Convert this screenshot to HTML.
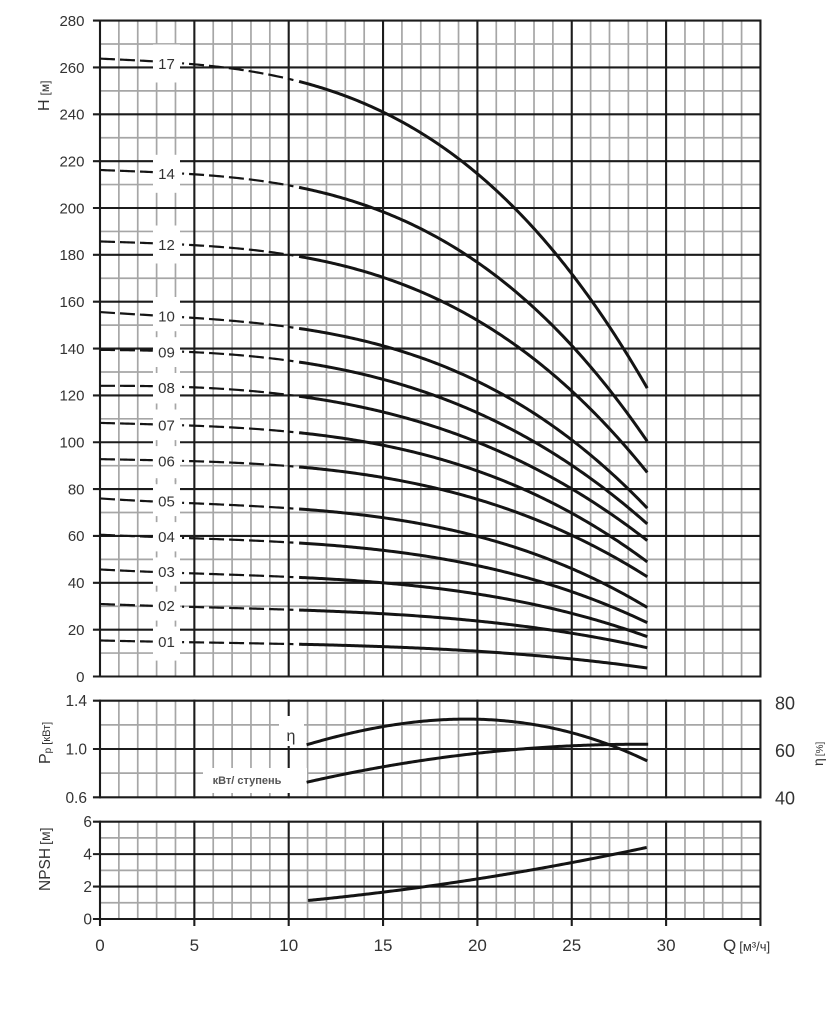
<!DOCTYPE html>
<html><head><meta charset="utf-8"><title>chart</title>
<style>
html,body{margin:0;padding:0;background:#fff;width:837px;height:1024px;overflow:hidden}
svg{display:block}
text{font-family:"Liberation Sans",Arial,sans-serif;fill:#333}
</style></head><body>
<svg id="s" width="837" height="1024" viewBox="0 0 837 1024" xmlns="http://www.w3.org/2000/svg">
<rect width="837" height="1024" fill="#fff"/>
<g id="grid"></g>
<g id="boxes" fill="#fff">
<rect x="153" y="44.5" width="27" height="38"/>
<rect x="153" y="154.8" width="27" height="38"/>
<rect x="153" y="225.5" width="27" height="38"/>
<rect x="153" y="297" width="27" height="38"/>
<rect x="153" y="333.3" width="27" height="38"/>
<rect x="153" y="368.8" width="27" height="38"/>
<rect x="153" y="406.2" width="27" height="38"/>
<rect x="153" y="442" width="27" height="38"/>
<rect x="153" y="482.3" width="27" height="38"/>
<rect x="153" y="517.9" width="27" height="38"/>
<rect x="153" y="552.8" width="27" height="38"/>
<rect x="153" y="586.6" width="27" height="38"/>
<rect x="153" y="622.6" width="27" height="38"/>
<rect x="279" y="716" width="25" height="30"/>
<rect x="203" y="768" width="104" height="25"/>
</g>
<g id="gdash"></g>
<g id="curves" fill="none" stroke="#141414"></g>
<g id="txt">
  <g font-size="15" text-anchor="middle" style="fill:#444">
    <text x="166.5" y="68.8">17</text>
    <text x="166.5" y="179.1">14</text>
    <text x="166.5" y="249.8">12</text>
    <text x="166.5" y="321.3">10</text>
    <text x="166.5" y="357.6">09</text>
    <text x="166.5" y="393.1">08</text>
    <text x="166.5" y="430.5">07</text>
    <text x="166.5" y="466.3">06</text>
    <text x="166.5" y="506.6">05</text>
    <text x="166.5" y="542.2">04</text>
    <text x="166.5" y="577.1">03</text>
    <text x="166.5" y="610.9">02</text>
    <text x="166.5" y="646.9">01</text>
  </g>
  <g font-size="15" text-anchor="end">
    <text x="84.5" y="25.9">280</text>
    <text x="84.5" y="72.8">260</text>
    <text x="84.5" y="119.6">240</text>
    <text x="84.5" y="166.4">220</text>
    <text x="84.5" y="213.3">200</text>
    <text x="84.5" y="260.2">180</text>
    <text x="84.5" y="307">160</text>
    <text x="84.5" y="353.8">140</text>
    <text x="84.5" y="400.7">120</text>
    <text x="84.5" y="447.5">100</text>
    <text x="84.5" y="494.4">80</text>
    <text x="84.5" y="541.2">60</text>
    <text x="84.5" y="588.1">40</text>
    <text x="84.5" y="634.9">20</text>
    <text x="84.5" y="681.8">0</text>
  </g>
  <g font-size="15.5" text-anchor="end">
    <text x="87" y="706.2">1.4</text>
    <text x="87" y="754.5">1.0</text>
    <text x="87" y="802.8">0.6</text>
    <text x="92" y="827.2">6</text>
    <text x="92" y="859.6">4</text>
    <text x="92" y="892.1">2</text>
    <text x="92" y="924.5">0</text>
  </g>
  <g font-size="18" text-anchor="middle">
    <text x="785" y="709.5">80</text>
    <text x="785" y="757">60</text>
    <text x="785" y="804.4">40</text>
  </g>
  <g font-size="17" text-anchor="middle">
    <text x="100" y="951">0</text>
    <text x="194.35" y="951">5</text>
    <text x="288.7" y="951">10</text>
    <text x="383.05" y="951">15</text>
    <text x="477.4" y="951">20</text>
    <text x="571.75" y="951">25</text>
    <text x="666.1" y="951">30</text>
  </g>
  <text x="723" y="951" font-size="17">Q<tspan font-size="13" dx="3">[м³/ч]</tspan></text>
  <text transform="translate(49,111) rotate(-90)" font-size="16">H<tspan font-size="12" dx="4">[м]</tspan></text>
  <text transform="translate(50,764) rotate(-90)" font-size="16">P<tspan font-size="10" dy="1">p</tspan><tspan font-size="11" dx="3" dy="-1">[кВт]</tspan></text>
  <text transform="translate(50,891) rotate(-90)" font-size="15.5">NPSH<tspan font-size="14" dx="3">[м]</tspan></text>
  <text transform="translate(823,766) rotate(-90)" font-size="14">η<tspan font-size="10" dx="2">[%]</tspan></text>
  <text x="291" y="741" font-size="16" text-anchor="middle">η</text>
  <text x="247" y="784" font-size="11" font-weight="bold" text-anchor="middle" style="fill:#555">кВт/ ступень</text>
</g>
</svg>
<script>
(function(){
const NS='http://www.w3.org/2000/svg';
function el(p,t,a){const e=document.createElementNS(NS,t);for(const k in a)e.setAttribute(k,a[k]);p.appendChild(e);return e;}
const X0=100,XS=18.87,X1=X0+35*XS;
const xq=q=>X0+q*XS;
const yH=h=>676.5-h*2.3425;
const yP=p=>700.7+(1.4-p)*120.75;
const yN=n=>919-n*16.217;
const G=document.getElementById('grid');
const MINC='#a6a6a6',MAJC='#1c1c1c',MINW=1.7,MAJW=2.1;
function ln(p,x1,y1,x2,y2,c,w,cap){const a={x1:x1.toFixed(2),y1:y1.toFixed(2),x2:x2.toFixed(2),y2:y2.toFixed(2),stroke:c,'stroke-width':w};if(cap)a['stroke-linecap']=cap;el(p,'line',a);}
function panel(top,bot,hl){
  for(let q=0;q<=35;q++) if(q%5) ln(G,xq(q),top,xq(q),bot,MINC,MINW);
  hl.forEach(h=>{if(!h[1]) ln(G,X0,h[0],X1,h[0],MINC,MINW);});
  hl.forEach(h=>{if(h[1]) ln(G,X0-6,h[0],X1,h[0],MAJC,MAJW,'square');});
  for(let q=0;q<=35;q+=5) ln(G,xq(q),top,xq(q),bot,MAJC,MAJW,'square');
}
let hl=[];for(let h=0;h<=280;h+=10)hl.push([yH(h),h%20===0]);
panel(yH(280),yH(0),hl);
hl=[];for(let i=0;i<=4;i++)hl.push([yP(0.6+i*0.2),i%2===0]);
panel(yP(1.4),yP(0.6),hl);
hl=[];for(let n=0;n<=6;n++)hl.push([yN(n),n%2===0]);
panel(yN(6),yN(0),hl);
for(let q=0;q<=35;q+=5) ln(G,xq(q),yN(0),xq(q),yN(0)+7,MAJC,MAJW);

const D=document.getElementById('gdash');
[334.2,370,406.5,443.1,481.2,519.1,554.4,588.7,623.6].forEach(y=>{[3,4].forEach(q=>ln(D,xq(q),y-3,xq(q),y+3,MINC,MINW));});

function fit(pts,deg){
  const n=deg+1;const A=[];for(let i=0;i<n;i++){A.push(new Array(n+1).fill(0));}
  const s=x=>(x-15)/15;
  pts.forEach(([x0,y])=>{const x=s(x0);for(let i=0;i<n;i++){for(let j=0;j<n;j++)A[i][j]+=Math.pow(x,i+j);A[i][n]+=y*Math.pow(x,i);}});
  for(let i=0;i<n;i++){let p=i;for(let r=i+1;r<n;r++)if(Math.abs(A[r][i])>Math.abs(A[p][i]))p=r;const t=A[i];A[i]=A[p];A[p]=t;
    for(let r=0;r<n;r++){if(r===i)continue;const f=A[r][i]/A[i][i];for(let c=i;c<=n;c++)A[r][c]-=f*A[i][c];}}
  const c=A.map((row,i)=>row[n]/row[i]);
  return x0=>{const x=s(x0);let v=0;for(let i=0;i<n;i++)v+=c[i]*Math.pow(x,i);return v;};
}
function pathStr(f,a,b,tx,ty){let s='';const n=Math.max(2,Math.ceil((b-a)/0.1));for(let i=0;i<=n;i++){const q=a+(b-a)*i/n;s+=(i?'L':'M')+tx(q).toFixed(2)+' '+ty(f(q)).toFixed(2);}return s;}
const C=document.getElementById('curves');
const data={
 '17':[[0,264],[10,255.4],[11,253.9],[15,240],[20,214.5],[22,199.9],[25,172.1],[29,123]],
 '14':[[0,216.5],[11,208.1],[15,198.9],[20,176.4],[23.67,152.2],[29,100.5]],
 '12':[[0,185.9],[10,180.2],[11,179.2],[15,169.3],[20,153.2],[25,121],[29,87.4]],
 '10':[[0,155.5],[11,148.6],[15,140.1],[20,126.6],[25,101],[29,71.8]],
 '09':[[0,139.7],[11,134.1],[15,126.6],[20,113],[25,89.6],[29,65.4]],
 '08':[[0,124.4],[11,119.4],[15,113],[20,100.2],[25,79.6],[29,58.3]],
 '07':[[0,108.4],[11,103.5],[15,99.3],[20,87.4],[25,69.7],[29,49]],
 '06':[[0,92.9],[11,89.1],[15,85.3],[20,75.3],[25,60.4],[29,42.6]],
 '05':[[0,75.8],[11,71.4],[15,67.5],[20,59.4],[25,46.9],[29,29.1]],
 '04':[[0,60.4],[11,56.9],[15,53.7],[20,46.9],[25,36.9],[29,22.7]],
 '03':[[0,45.5],[11,42.2],[15,39.8],[20,34.8],[25,27.7],[29,16.7]],
 '02':[[0,30.8],[11,28.4],[15,26.5],[20,23.4],[25,19.1],[29,12]],
 '01':[[0,15.3],[11,13.7],[15,12.7],[20,10.6],[25,7.8],[29,3.5]]
};
for(const k in data){
  const pts=data[k].slice();const H0=pts[0][1];const H11=pts.find(p=>p[0]===11)[1];
  pts.push([3.5,H0-0.23*(H0-H11)]);
  const f=fit(pts,3);
  el(C,'path',{d:pathStr(f,0,2.8,xq,yH),'stroke-width':2.2,'stroke-dasharray':'15 5'});
  el(C,'path',{d:pathStr(f,4.35,10.25,xq,yH),'stroke-width':2.2,'stroke-dasharray':'15 5','stroke-dashoffset':13});
  el(C,'path',{d:pathStr(f,10.55,29,xq,yH),'stroke-width':3});
}
const id=v=>v;
const eta=fit([[10.95,745],[13.07,733.3],[15.01,727.3],[16.96,721.7],[18.9,719],[20.02,719],[21.2,720],[22.96,725],[25.03,733],[27.2,746],[28.97,760.7]],4);
el(C,'path',{d:pathStr(eta,10.95,29,xq,id),'stroke-width':3});
const kw=fit([[10.95,782.3],[15.01,766.7],[20.02,753.3],[25.03,745.7],[29.05,744.3]],2);
el(C,'path',{d:pathStr(kw,10.95,29.05,xq,id),'stroke-width':3});
const np=fit([[11.03,900.7],[15.01,891.7],[20.02,879],[25.03,862.7],[28.97,847.3]],2);
el(C,'path',{d:pathStr(np,11.03,28.97,xq,id),'stroke-width':3});
})();
</script>
</body></html>
